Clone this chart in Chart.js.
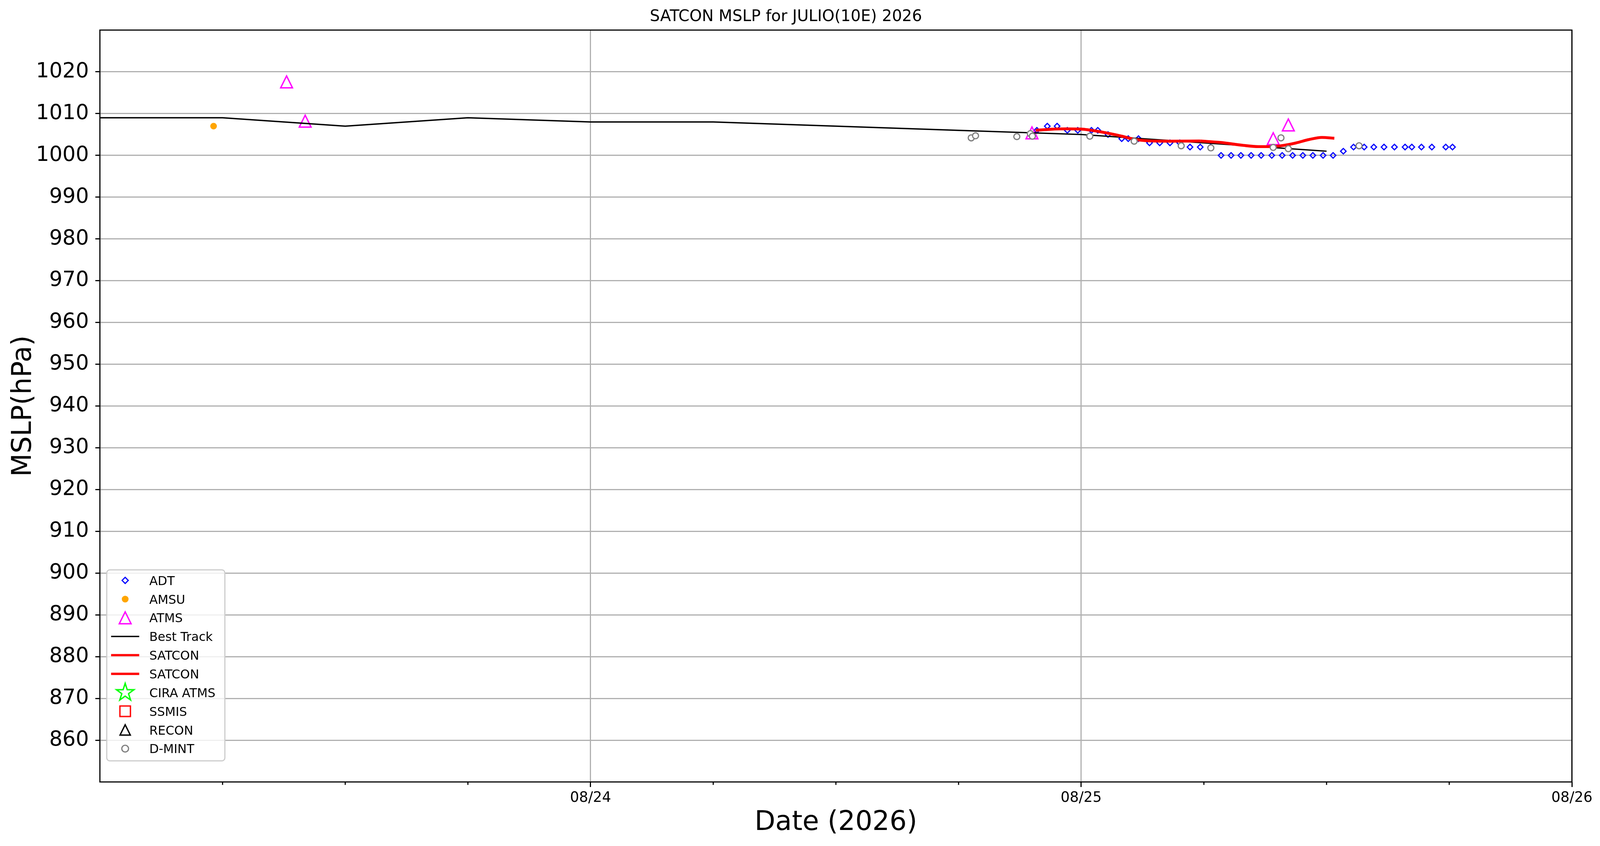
<!DOCTYPE html>
<html>
<head>
<meta charset="utf-8">
<script src="https://cdn.jsdelivr.net/npm/chart.js@4.4.1/dist/chart.umd.min.js"></script>
<style>
html,body{margin:0;padding:0;background:#ffffff;overflow:hidden}
canvas{display:block}
</style>
</head>
<body>
<canvas id="c"></canvas>
<script>
// ---- data (x = hours since 08/23 00Z 2026) ----
const adtHours = [45.83,46.34,46.82,47.32,47.83,48.50,48.81,49.31,49.98,50.30,50.80,51.34,51.84,52.34,52.82,53.32,53.82,54.33,
  54.84,55.33,55.81,56.31,56.80,57.32,57.83,58.34,58.84,59.33,59.83,60.32,60.82,
  61.32,61.84,62.31,62.81,63.32,63.84,64.17,64.64,65.15,65.83,66.16];
const adtValues = [1006,1007,1007,1006,1006,1006,1006,1005,1004,1004,1004,1003,1003,1003,1003,1002,1002,1002,
  1000,1000,1000,1000,1000,1000,1000,1000,1000,1000,1000,1000,1001,
  1002,1002,1002,1002,1002,1002,1002,1002,1002,1002,1002];

const amsuHours = [5.56];
const amsuValues = [1007.0];

const atmsHours = [9.13,10.04,45.59,57.39,58.13];
const atmsValues = [1017.6,1008.2,1005.4,1004.0,1007.3];

const bestHours = [0,6,12,18,24,30,36,42,48,54,60];
const bestValues = [1009,1009,1007,1009,1008,1008,1007,1006,1005,1003,1001];

const satcon1Hours = [45.77,46.51,47.25,48.00,48.37,48.99,49.98,50.54,51.09,52.34,53.82];
const satcon1Values = [1006.0,1006.25,1006.35,1006.3,1006.1,1005.6,1004.6,1003.9,1003.55,1003.4,1003.45];
const satcon2Hours = [53.82,54.81,55.92,56.67,57.17,57.91,58.52,59.15,59.77,60.38];
const satcon2Values = [1003.45,1003.1,1002.4,1002.1,1002.1,1002.4,1003.0,1003.8,1004.3,1004.1];

const dmintHours = [42.62,42.83,44.85,45.51,45.61,48.42,50.59,52.89,54.34,57.39,57.77,58.13,61.59];
const dmintValues = [1004.2,1004.7,1004.5,1005.2,1004.6,1004.6,1003.4,1002.3,1001.8,1001.9,1004.2,1001.6,1002.3];

const xMajorHours = [24,48,72];
const xMajorLabels = ['08/24','08/25','08/26'];
const yMin = 850, yMax = 1030, yStep = 10;

const pts = (xs, ys) => xs.map((x, i) => ({x: x, y: ys[i]}));

// ---- sizing: everything designed for a 4212x2166 view, scaled to the real viewport ----
const W = window.innerWidth || document.documentElement.clientWidth || 4212;
const H = window.innerHeight || document.documentElement.clientHeight || 2166;
const kx = W / 4212, ky = H / 2166, k = (kx + ky) / 2;
const cv = document.getElementById('c');
cv.width = W; cv.height = H;
cv.style.width = W + 'px'; cv.style.height = H + 'px';
const DPR = window.devicePixelRatio || 1;

// ---- marker images (styles) ----
function makeMarker(size, fn) {
  const c = document.createElement('canvas');
  const s = Math.round(size * k);
  c.width = s; c.height = s;
  const g = c.getContext('2d');
  g.scale(s / size, s / size);
  fn(g, size / 2);
  return c;
}
function triPath(g, cx, cy, h) {
  g.beginPath();
  g.moveTo(cx, cy - h);
  g.lineTo(cx + h, cy + h);
  g.lineTo(cx - h, cy + h);
  g.closePath();
}
function starPath(g, cx, cy, R) {
  const r = R * 0.381966;
  g.beginPath();
  for (let i = 0; i < 10; i++) {
    const a = -Math.PI / 2 + i * Math.PI / 5;
    const rr = (i % 2 === 0) ? R : r;
    const px = cx + rr * Math.cos(a), py = cy + rr * Math.sin(a);
    if (i === 0) g.moveTo(px, py); else g.lineTo(px, py);
  }
  g.closePath();
}
const atmsMarker = makeMarker(48, (g, c) => {
  triPath(g, c, c, 15.5);
  g.lineJoin = 'miter'; g.lineWidth = 3.5; g.strokeStyle = '#ff00ff'; g.stroke();
});
const ciraMarker = makeMarker(60, (g, c) => {
  starPath(g, c, c, 24);
  g.lineJoin = 'miter'; g.lineWidth = 3.5; g.strokeStyle = '#00ff00'; g.stroke();
});
const ssmisMarker = makeMarker(40, (g, c) => {
  g.lineWidth = 3.5; g.strokeStyle = '#ff0000'; g.strokeRect(c - 13.8, c - 13.8, 27.6, 27.6);
});
const reconMarker = makeMarker(44, (g, c) => {
  triPath(g, c, c, 13.5);
  g.lineJoin = 'miter'; g.lineWidth = 3.5; g.strokeStyle = '#000000'; g.stroke();
});

// ---- plugins ----
const framePlugin = {
  id: 'frame',
  afterDatasetsDraw(chart) {
    const {ctx, chartArea: a} = chart;
    ctx.save();
    ctx.strokeStyle = '#000'; ctx.lineWidth = 3 * k;
    ctx.strokeRect(a.left, a.top, a.right - a.left, a.bottom - a.top);
    const xs = chart.scales.x;
    xs.ticks.forEach(t => {
      if (t.value > 0 && !xMajorHours.includes(t.value)) {
        const px = xs.getPixelForValue(t.value);
        ctx.beginPath(); ctx.moveTo(px, a.bottom); ctx.lineTo(px, a.bottom + 7.5 * ky); ctx.stroke();
      }
    });
    ctx.restore();
  }
};

const legendPlugin = {
  id: 'mplLegend',
  afterDraw(chart) {
    const ctx = chart.ctx, a = chart.chartArea;
    const w = 311 * kx, h = 489 * ky;
    const x0 = a.left + 18 * kx, y0 = a.bottom - 54 * ky - h;
    ctx.save();
    ctx.beginPath();
    ctx.roundRect(x0, y0, w, h, 8 * k);
    ctx.fillStyle = 'rgba(255,255,255,0.8)'; ctx.fill();
    ctx.lineWidth = 3 * k; ctx.strokeStyle = '#cccccc'; ctx.stroke();
    const mx = x0 + 48.5 * kx, tx = x0 + 112 * kx;
    chart.data.datasets.forEach((ds, i) => {
      const cy = y0 + (27 + i * 47.85) * ky;
      const lg = ds.legendMark;
      if (lg.type === 'line') {
        ctx.beginPath(); ctx.moveTo(mx - 37 * kx, cy); ctx.lineTo(mx + 37 * kx, cy);
        ctx.lineWidth = lg.width * k; ctx.strokeStyle = lg.color; ctx.lineCap = 'butt'; ctx.stroke();
      } else if (lg.type === 'image') {
        ctx.drawImage(lg.img, mx - lg.img.width / 2, cy - lg.img.height / 2);
      } else if (lg.type === 'diamond') {
        const r = 8 * k;
        ctx.beginPath(); ctx.moveTo(mx, cy - r); ctx.lineTo(mx + r, cy); ctx.lineTo(mx, cy + r); ctx.lineTo(mx - r, cy); ctx.closePath();
        ctx.lineWidth = 3 * k; ctx.strokeStyle = lg.color; ctx.stroke();
      } else if (lg.type === 'dot') {
        ctx.beginPath(); ctx.arc(mx, cy, 8.8 * k, 0, Math.PI * 2); ctx.fillStyle = lg.color; ctx.fill();
      } else if (lg.type === 'ring') {
        ctx.beginPath(); ctx.arc(mx, cy, 8.8 * k, 0, Math.PI * 2); ctx.fillStyle = '#fff'; ctx.fill();
        ctx.lineWidth = 3.2 * k; ctx.strokeStyle = lg.color; ctx.stroke();
      }
      ctx.fillStyle = '#000'; ctx.font = (32 * k) + 'px "DejaVu Sans"'; ctx.textBaseline = 'alphabetic'; ctx.textAlign = 'left';
      ctx.fillText(ds.label, tx, cy + 11.7 * ky);
    });
    ctx.restore();
  }
};

const FONT = 'DejaVu Sans';
const isInnerY = v => v > yMin && v < yMax;

new Chart(cv.getContext('2d'), {
  type: 'scatter',
  data: {
    datasets: [
      {label: 'ADT', data: pts(adtHours, adtValues), pointStyle: 'rectRot', pointRadius: 7.2 * k, borderColor: '#0000ff',
        backgroundColor: 'rgba(0,0,0,0)', borderWidth: 3 * k, showLine: false, order: 9,
        legendMark: {type: 'diamond', color: '#0000ff'}},
      {label: 'AMSU', data: pts(amsuHours, amsuValues), pointStyle: 'circle', pointRadius: 8.6 * k, backgroundColor: '#ffa500',
        borderColor: '#ffa500', borderWidth: 0, showLine: false, order: 8,
        legendMark: {type: 'dot', color: '#ffa500'}},
      {label: 'ATMS', data: pts(atmsHours, atmsValues), pointStyle: atmsMarker, pointRadius: 18 * k, showLine: false, order: 7,
        legendMark: {type: 'image', img: atmsMarker}},
      {label: 'Best Track', data: pts(bestHours, bestValues), showLine: true, borderColor: '#000000', borderWidth: 3.5 * k,
        pointRadius: 0, tension: 0, order: 6, legendMark: {type: 'line', color: '#000000', width: 3.5}},
      {label: 'SATCON', data: pts(satcon1Hours, satcon1Values), showLine: true, borderColor: '#ff0000', borderWidth: 7.5 * k,
        pointRadius: 0, cubicInterpolationMode: 'monotone', order: 5, legendMark: {type: 'line', color: '#ff0000', width: 6}},
      {label: 'SATCON', data: pts(satcon2Hours, satcon2Values), showLine: true, borderColor: '#ff0000', borderWidth: 7.5 * k,
        pointRadius: 0, cubicInterpolationMode: 'monotone', order: 4, legendMark: {type: 'line', color: '#ff0000', width: 6}},
      {label: 'CIRA ATMS', data: [], pointStyle: ciraMarker, showLine: false, order: 3,
        legendMark: {type: 'image', img: ciraMarker}},
      {label: 'SSMIS', data: [], pointStyle: ssmisMarker, showLine: false, order: 2,
        legendMark: {type: 'image', img: ssmisMarker}},
      {label: 'RECON', data: [], pointStyle: reconMarker, showLine: false, order: 1,
        legendMark: {type: 'image', img: reconMarker}},
      {label: 'D-MINT', data: pts(dmintHours, dmintValues), pointStyle: 'circle', pointRadius: 7.8 * k, borderColor: '#808080',
        backgroundColor: '#ffffff', borderWidth: 3.2 * k, showLine: false, order: 0,
        legendMark: {type: 'ring', color: '#808080'}}
    ]
  },
  options: {
    responsive: false,
    maintainAspectRatio: false,
    devicePixelRatio: DPR,
    animation: false,
    events: [],
    layout: {padding: {left: 0, right: 74 * kx, top: 0, bottom: 0}},
    plugins: {
      legend: {display: false},
      tooltip: {enabled: false},
      title: {display: true, text: 'SATCON MSLP for JULIO(10E) 2026', color: '#000',
        font: {family: FONT, size: 41 * k, weight: 'normal', lineHeight: 1.2},
        padding: {top: 19 * ky, bottom: 77 * ky - 19 * ky - 41 * k * 1.2}}
    },
    scales: {
      x: {
        type: 'linear', min: 0, max: 72,
        afterFit(s) { s.height = 164 * ky; },
        border: {display: false},
        ticks: {
          stepSize: 6, autoSkip: false, maxRotation: 0, padding: 7 * ky, color: '#000',
          font: {family: FONT, size: 37 * k},
          callback: v => { const i = xMajorHours.indexOf(v); return i >= 0 ? xMajorLabels[i] : ''; }
        },
        grid: {
          lineWidth: 3 * k, drawTicks: true, tickLength: 13 * ky, tickWidth: 3 * k,
          color: c => (c.tick && xMajorHours.includes(c.tick.value)) ? '#b0b0b0' : 'rgba(0,0,0,0)',
          tickColor: c => (c.tick && xMajorHours.includes(c.tick.value)) ? '#000000' : 'rgba(0,0,0,0)'
        },
        title: {display: true, text: 'Date (2026)', color: '#000', font: {family: FONT, size: 70 * k},
          padding: {top: 0, bottom: 18 * ky}}
      },
      y: {
        type: 'linear', min: yMin, max: yMax,
        afterFit(s) { s.width = 263 * kx; },
        border: {display: false},
        ticks: {
          stepSize: yStep, autoSkip: false, padding: 17 * kx, color: '#000',
          font: {family: FONT, size: 54 * k},
          callback: v => isInnerY(v) ? String(v) : ''
        },
        grid: {
          lineWidth: 3 * k, drawTicks: true, tickLength: 12 * kx, tickWidth: 3 * k,
          color: c => (c.tick && isInnerY(c.tick.value)) ? '#b0b0b0' : 'rgba(0,0,0,0)',
          tickColor: c => (c.tick && isInnerY(c.tick.value)) ? '#000000' : 'rgba(0,0,0,0)'
        },
        title: {display: true, text: 'MSLP(hPa)', color: '#000', font: {family: FONT, size: 70 * k},
          padding: {top: 20 * kx, bottom: 0}}
      }
    }
  },
  plugins: [framePlugin, legendPlugin]
});
</script>
</body>
</html>
